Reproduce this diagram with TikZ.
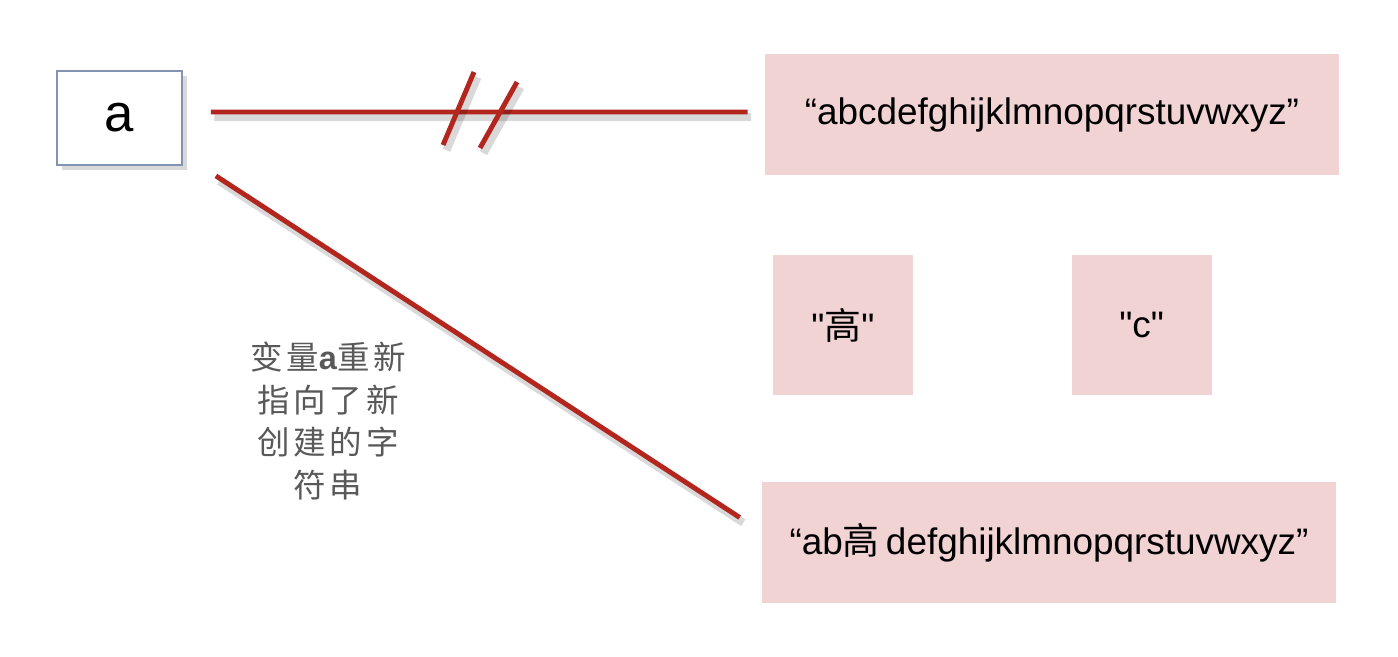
\documentclass[tikz,border=0pt]{standalone}
\usepackage{fontspec}
\setmainfont{Liberation Sans}
\newfontfamily\strfont{Liberation Sans}
\newfontfamily\cjk{Noto Sans CJK SC}
\newfontfamily\cjknote[LetterSpace=12]{Noto Sans CJK SC}
\usetikzlibrary{positioning,shadows}
\definecolor{refred}{HTML}{B3261E}
\definecolor{strfill}{HTML}{F1D3D4}
\definecolor{varedge}{HTML}{8394B2}
\definecolor{notegray}{HTML}{595959}
\tikzset{
  varbox/.style={draw=varedge,line width=1pt,fill=white,minimum width=2.5cm,minimum height=1.88cm,
    font=\fontsize{30}{34}\selectfont,drop shadow={shadow xshift=3pt,shadow yshift=-3pt,opacity=0.3}},
  strbox/.style={fill=strfill,minimum width=11.48cm,minimum height=2.42cm,inner sep=0pt,font=\strfont\fontsize{21}{25}\selectfont},
  charbox/.style={strbox,minimum width=2.8cm,minimum height=2.8cm},
  ref/.style={draw=refred,line width=2.8pt,
    preaction={draw=black,opacity=0.15,line width=4.5pt,transform canvas={shift={(2pt,-3pt)}}}},
  notetext/.style={text=notegray,align=center,font=\cjknote\fontsize{18.5}{24.3}\selectfont},
}

\begin{document}
\begin{tikzpicture}[x=0.02cm,y=-0.02cm]
\useasboundingbox (0,0) rectangle (1398,656);
% variable and the strings
\node[varbox] (var) at (119.5,118) {a};
\node[strbox] (old) at (1052,114.5) {“abcdefghijklmnopqrstuvwxyz”};
\node[charbox] (gao) at (843,325) {"{\cjk 高}"};
\node[charbox,right=3.16cm of gao] (chc) {"c"};
\node[strbox] (new) at (1049,542.5) {“ab{\cjk 高}\,defghijklmnopqrstuvwxyz”};
\node[notetext] (note) at (328,421) {变量{\strfont\bfseries a}重新\\指向了新\\创建的字\\符串};
% old reference, broken
\draw[ref] ([xshift=0.56cm,yshift=0.12cm]var.east) -- ([xshift=-0.34cm,yshift=0.05cm]old.west);
\draw[ref] (474,72) -- (443,145);
\draw[ref] (517,82) -- (480,148);
% new reference
\draw[ref] ([xshift=0.66cm,yshift=-0.2cm]var.south east) -- ([xshift=-0.44cm,yshift=0.5cm]new.west);
\end{tikzpicture}
\end{document}
